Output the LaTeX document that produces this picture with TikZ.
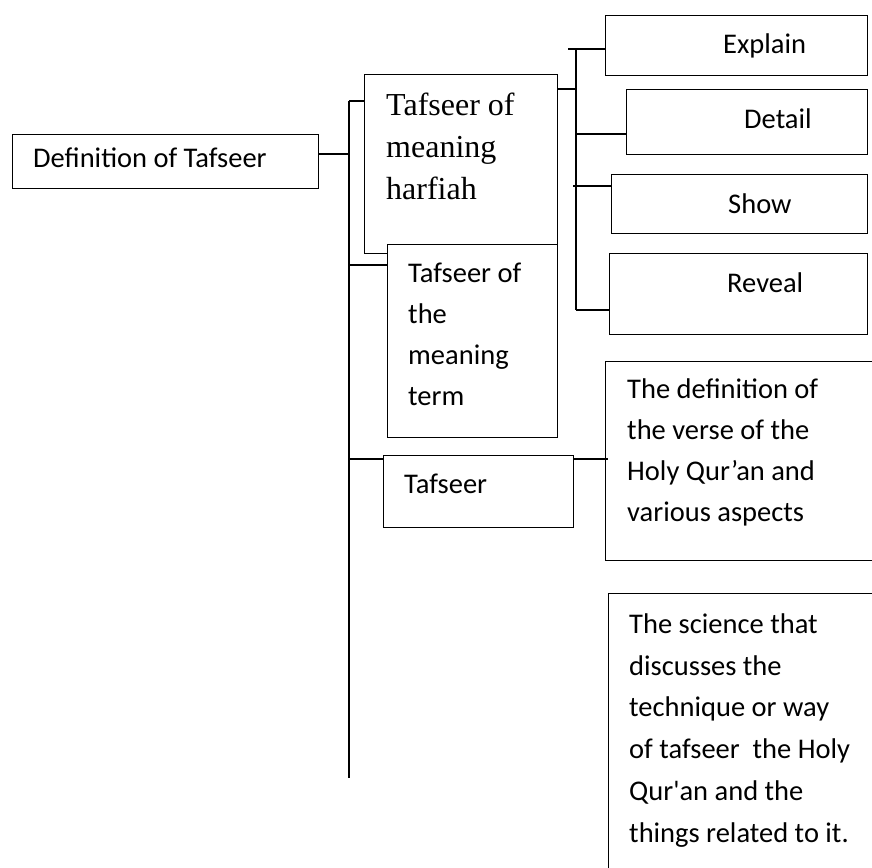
\documentclass[tikz,border=0pt]{standalone}
\usepackage{fontspec}
\setmainfont{Carlito}
\newfontfamily\carplain{Carlito}
\newfontfamily\tnr{Liberation Serif}
\begin{document}
\begin{tikzpicture}[x=1pt,y=-1pt,
  box/.style={draw, line width=1.2pt, fill=white, inner sep=0pt, anchor=north west},
  txt/.style={anchor=base west, inner sep=0pt, font=\carplain\fontsize{28.5}{34}\selectfont},
  serif/.style={anchor=base west, inner sep=0pt, font=\tnr\fontsize{32}{38}\selectfont},
  ln/.style={line width=1.2pt}]
\useasboundingbox (0,0) rectangle (872,867);
\fill[white] (0,0) rectangle (872,867);
\clip (0,0) rectangle (872,867);

% boxes
\node[box, minimum width=306pt, minimum height=54pt] (def) at (12,134) {};
\node[box, minimum width=193pt, minimum height=179pt] (b1) at (364,74) {};
\node[box, minimum width=170pt, minimum height=193pt] (b2) at (387,244) {};
\node[box, minimum width=190pt, minimum height=72pt] (taf) at (383,455) {};
\node[box, minimum width=262pt, minimum height=60pt] (exp) at (605,15) {};
\node[box, minimum width=241pt, minimum height=65pt] (det) at (626,89) {};
\node[box, minimum width=256pt, minimum height=59pt] (sho) at (611,174) {};
\node[box, minimum width=258pt, minimum height=81pt] (rev) at (609,253) {};
\node[box, minimum width=280pt, minimum height=199pt] (dv) at (605,361) {};
\node[box, minimum width=280pt, minimum height=300pt] (sci) at (608,593) {};

% texts
\node[txt] (tdef) at (33,167) {Definition of Tafseer};
\node[serif] (h1) at (386,115) {Tafseer of};
\node[serif] (h2) at (386,157) {meaning};
\node[serif] (h3) at (386,199) {harfiah};
\node[txt] (m1) at (408,282) {Tafseer of};
\node[txt] (m2) at (408,323) {the};
\node[txt] (m3) at (408,364) {meaning};
\node[txt] (m4) at (408,405) {term};
\node[txt] (ttaf) at (404,493) {Tafseer};
\node[txt] (texp) at (723,53) {Explain};
\node[txt] (tdet) at (744,128) {Detail};
\node[txt] (tsho) at (728,213) {Show};
\node[txt] (trev) at (727,292) {Reveal};
\node[txt] (d1) at (627,398) {The definition of};
\node[txt] (d2) at (627,439) {the verse of the};
\node[txt] (d3) at (627,480) {Holy Qur’an and};
\node[txt] (d4) at (627,521) {various aspects};
\node[txt] (s1) at (629,633) {The science that};
\node[txt] (s2) at (629,675) {discusses the};
\node[txt] (s3) at (629,716) {technique or way};
\node[txt] (s4) at (629,758) {of tafseer\ \ the Holy};
\node[txt] (s5) at (629,800) {Qur'an and the};
\node[txt] (s6) at (629,842) {things related to it.};

% connectors
\coordinate (j1) at (349,154);
\coordinate (j2) at (349,101);
\coordinate (j3) at (349,265);
\coordinate (j4) at (349,459);
\coordinate (jend) at (349,778);
\draw[ln] (def.east |- j1) -- (j1);
\draw[ln] (j2) -- (jend);
\draw[ln] (j2) -- (b1.west |- j2);
\draw[ln] (j3) -- (b2.west |- j3);
\draw[ln] (j4) -- (taf.west |- j4);

\coordinate (k0) at (576,89);
\coordinate (ktop) at (576,49);
\coordinate (kbot) at (576,310);
\coordinate (k1) at (568,49);
\coordinate (k2) at (576,134);
\coordinate (k3) at (573,186);
\draw[ln] (b1.east |- k0) -- (k0);
\draw[ln] (ktop) -- (kbot);
\draw[ln] (k1) -- (exp.west |- k1);
\draw[ln] (k2) -- (det.west |- k2);
\draw[ln] (k3) -- (sho.west |- k3);
\draw[ln] (kbot) -- (rev.west |- kbot);

\coordinate (m) at (608,459);
\draw[ln] (taf.east |- m) -- (m);
\end{tikzpicture}
\end{document}
